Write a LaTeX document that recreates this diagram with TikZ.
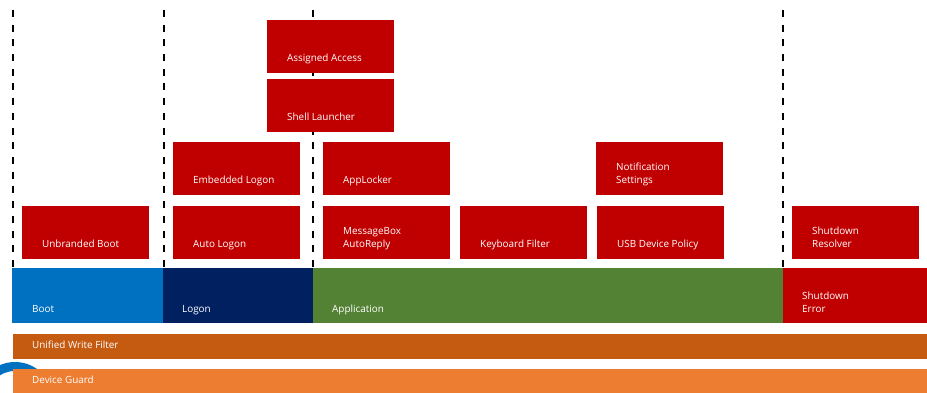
\documentclass[tikz,border=0pt]{standalone}
\usepackage{fontspec}
\setmainfont{Open Sans}
\definecolor{tilered}{HTML}{C00000}
\definecolor{bootblue}{HTML}{0070C0}
\definecolor{logonnavy}{HTML}{002060}
\definecolor{appgreen}{HTML}{548235}
\definecolor{uwforange}{HTML}{C55A11}
\definecolor{guardorange}{HTML}{ED7D31}
\begin{document}
\begin{tikzpicture}[x=1pt,y=-1pt,
  tile/.style={fill=tilered, draw=none, minimum width=127pt, minimum height=53pt,
    anchor=north west, inner sep=0pt, outer sep=0pt},
  bar/.style={draw=none, anchor=north west, inner sep=0pt, outer sep=0pt},
  txt/.style={text=white, anchor=south west, inner sep=0pt, text depth=0pt,
    align=left, font=\fontsize{9.9}{13}\selectfont},
  sepline/.style={line width=2pt, dash pattern=on 7pt off 7.7pt}
]
\useasboundingbox (0,0) rectangle (927,393);

% ring fragment peeking out behind the lowest band
\fill[bootblue, even odd rule] (15,400) circle (38pt) (15,400) circle (29pt);

% phase separators
\coordinate (s1t) at (12.5,10);  \coordinate (s1b) at (12.5,268);
\coordinate (s2t) at (163.5,10); \coordinate (s2b) at (163.5,268);
\coordinate (s3t) at (312.5,10); \coordinate (s3b) at (312.5,268);
\coordinate (s4t) at (782.5,10); \coordinate (s4b) at (782.5,268);
\draw[sepline] (s1t) -- (s1b);
\draw[sepline] (s2t) -- (s2b);
\draw[sepline] (s3t) -- (s3b);
\draw[sepline] (s4t) -- (s4b);

% phase bars
\node[bar, fill=bootblue, minimum width=151pt, minimum height=55pt] (boot) at (12,268) {};
\node[bar, fill=logonnavy, minimum width=150pt, minimum height=55pt] (logon) at (163,268) {};
\node[bar, fill=appgreen, minimum width=470pt, minimum height=55pt] (app) at (313,268) {};
\node[bar, fill=tilered, minimum width=144pt, minimum height=55pt] (sderr) at (783,268) {};
\node[txt] at ([xshift=20pt,yshift=-44.5pt]boot.north west) {Boot};
\node[txt] at ([xshift=19pt,yshift=-44.5pt]logon.north west) {Logon};
\node[txt] at ([xshift=19pt,yshift=-44.5pt]app.north west) {Application};
\node[txt] at ([xshift=19pt,yshift=-44.5pt]sderr.north west) {Shutdown\\Error};

% platform bands
\node[bar, fill=uwforange, minimum width=914pt, minimum height=25pt] (uwf) at (13,334) {};
\node[bar, fill=guardorange, minimum width=914pt, minimum height=24pt] (dg) at (13,369) {};
\node[txt] at ([xshift=19pt,yshift=-14.5pt]uwf.north west) {Unified Write Filter};
\node[txt] at ([xshift=19pt,yshift=-14.5pt]dg.north west) {Device Guard};

% feature tiles
\node[tile] (ub)  at (22,206)  {};
\node[tile] (el)  at (173,142) {};
\node[tile] (al)  at (173,206) {};
\node[tile] (aa)  at (267,20)  {};
\node[tile] (sl)  at (267,79)  {};
\node[tile] (apl) at (323,142) {};
\node[tile] (mb)  at (323,206) {};
\node[tile] (kf)  at (460,206) {};
\node[tile] (ns)  at (596,142) {};
\node[tile] (usb) at (597,206) {};
\node[tile] (sr)  at (792,206) {};

\node[txt] at ([xshift=20pt,yshift=-41.5pt]ub.north west)  {Unbranded Boot};
\node[txt] at ([xshift=20pt,yshift=-41.5pt]el.north west)  {Embedded Logon};
\node[txt] at ([xshift=20pt,yshift=-41.5pt]al.north west)  {Auto Logon};
\node[txt] at ([xshift=20pt,yshift=-41.5pt]aa.north west)  {Assigned Access};
\node[txt] at ([xshift=20pt,yshift=-41.5pt]sl.north west)  {Shell Launcher};
\node[txt] at ([xshift=20pt,yshift=-41.5pt]apl.north west) {AppLocker};
\node[txt] at ([xshift=20pt,yshift=-41.5pt]mb.north west)  {MessageBox\\AutoReply};
\node[txt] at ([xshift=20pt,yshift=-41.5pt]kf.north west)  {Keyboard Filter};
\node[txt] at ([xshift=20pt,yshift=-41.5pt]ns.north west)  {Notification\\Settings};
\node[txt] at ([xshift=20pt,yshift=-41.5pt]usb.north west) {USB Device Policy};
\node[txt] at ([xshift=20pt,yshift=-41.5pt]sr.north west)  {Shutdown\\Resolver};
\end{tikzpicture}
\end{document}
